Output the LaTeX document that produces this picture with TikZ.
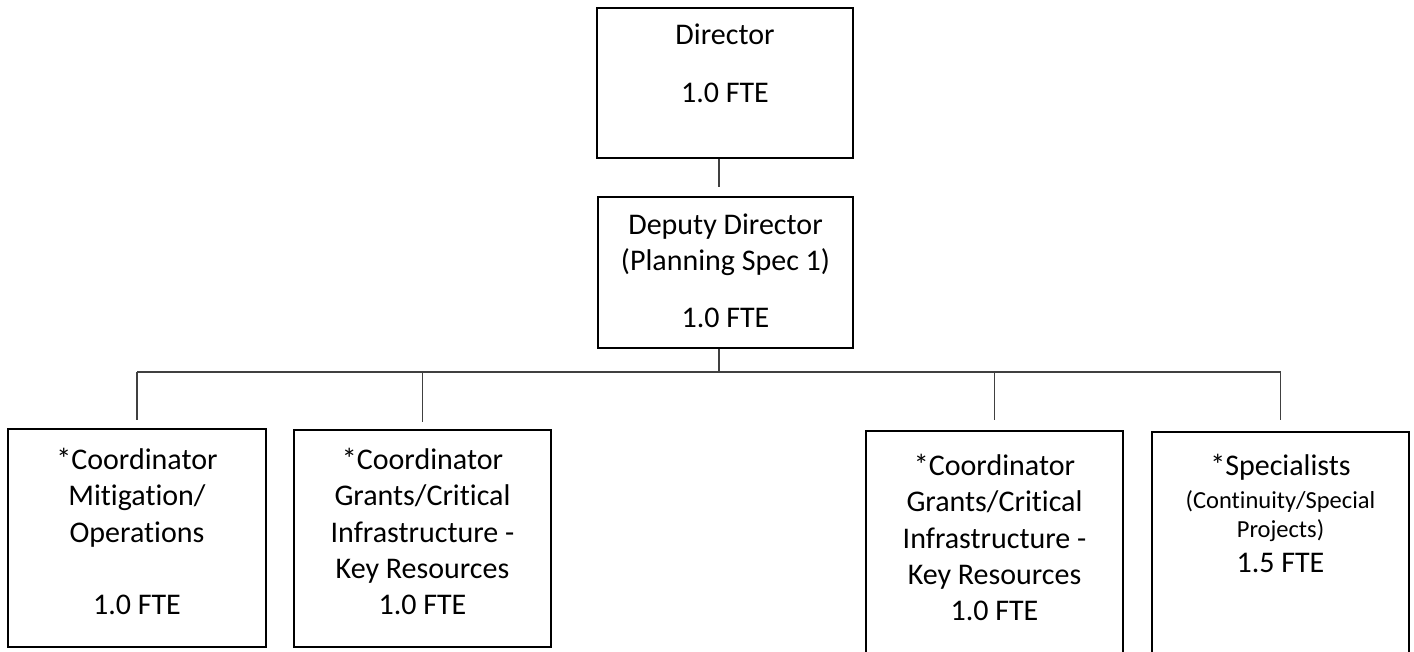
\documentclass[tikz,border=0pt]{standalone}
\usepackage{fontspec}
\setmainfont{Carlito}[Ligatures=NoCommon]
\begin{document}
\begin{tikzpicture}[x=1pt,y=-1pt,
  box/.style={draw=black, line width=2.2pt, inner sep=0pt},
  link/.style={draw=black!75, line width=1.3pt},
  txt/.style={anchor=base, inner sep=0pt, font=\fontsize{30}{36}\selectfont},
  small/.style={anchor=base, inner sep=0pt, font=\fontsize{24.5}{30}\selectfont}]
\useasboundingbox (0,0) rectangle (1414,652);

% boxes
\node[box, minimum width=256pt, minimum height=150pt] (dir) at (725,83) {};
\node[box, minimum width=255pt, minimum height=151pt] (dep) at (725.5,272.5) {};
\node[box, minimum width=258pt, minimum height=218pt] (b1) at (137,538) {};
\node[box, minimum width=257pt, minimum height=217pt] (b2) at (422.5,538.5) {};
\node[box, minimum width=257pt, minimum height=236pt] (b3) at (994.5,549) {};
\node[box, minimum width=257pt, minimum height=236pt] (b4) at (1280.5,550) {};

% Director
\node[txt] (dir1) at (725,45) {Director};
\node[txt] (dir2) at (725,103) {1.0 FTE};

% Deputy Director
\node[txt] (dep1) at (725.5,235) {Deputy Director};
\node[txt] (dep2) at (725.5,271) {(Planning Spec 1)};
\node[txt] (dep3) at (725.5,328) {1.0 FTE};

% Coordinator, Mitigation / Operations
\node[txt] (a1) at (137,469) {*Coordinator};
\node[txt] (a2) at (137,505) {Mitigation/};
\node[txt] (a3) at (137,542) {Operations};
\node[txt] (a4) at (137,614) {1.0 FTE};

% Coordinator, Grants / Critical Infrastructure
\node[txt] (g1) at (422.5,469) {*Coordinator};
\node[txt] (g2) at (422.5,505) {Grants/Critical};
\node[txt] (g3) at (422.5,542) {Infrastructure -};
\node[txt] (g4) at (422.5,578) {Key Resources};
\node[txt] (g5) at (422.5,614) {1.0 FTE};

% Coordinator, Grants / Critical Infrastructure (second post)
\node[txt] (h1) at (994.5,475) {*Coordinator};
\node[txt] (h2) at (994.5,511) {Grants/Critical};
\node[txt] (h3) at (994.5,548) {Infrastructure -};
\node[txt] (h4) at (994.5,584) {Key Resources};
\node[txt] (h5) at (994.5,620) {1.0 FTE};

% Specialists
\node[txt] (s1) at (1280.5,475) {*Specialists};
\node[small] (s2) at (1280.5,508) {(Continuity/Special};
\node[small] (s3) at (1280.5,537) {Projects)};
\node[txt] (s4) at (1280.5,572) {1.5 FTE};

% reporting lines
\coordinate (hub) at (719,372);
\draw[link] ([xshift=-6pt]dir.south) -- ([xshift=-6.5pt,yshift=9pt]dep.north);
\draw[link] ([xshift=-6.5pt]dep.south) -- (hub);
\draw[link] (b1.north |- hub) -- (b4.north |- hub);
\foreach \b/\s in {b1/8pt, b2/7pt, b3/10pt, b4/11pt}
  \draw[link] (\b.north |- hub) -- ([yshift=\s]\b.north);
\end{tikzpicture}
\end{document}
